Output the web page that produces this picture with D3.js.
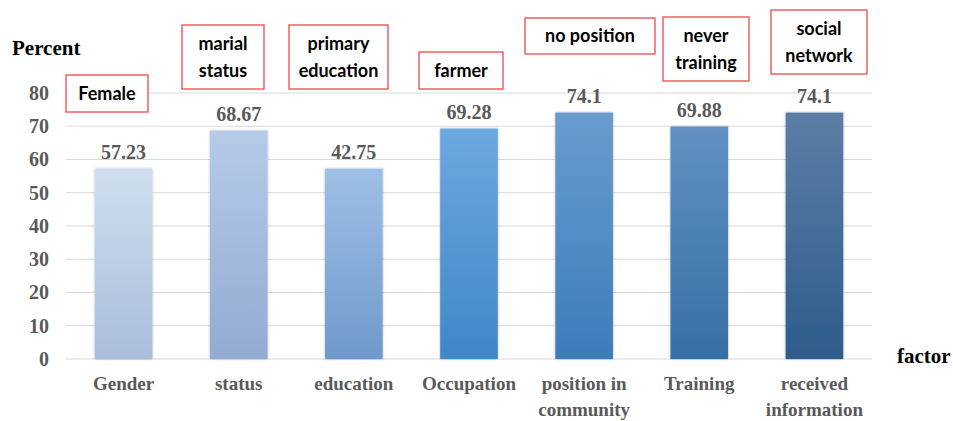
<!DOCTYPE html>
<html>
<head>
<meta charset="utf-8">
<script src="https://cdn.jsdelivr.net/npm/d3@7"></script>
<style>
  body { margin: 0; background: #fff; }
  svg { display: block; }
</style>
</head>
<body>
<svg id="canvas" width="953" height="421"></svg>
<script>
// ---- data ----
let categories = [['Gender'], ['status'], ['education'], ['Occupation'], ['position in', 'community'], ['Training'], ['received', 'information']]
let barValues = [57.23, 68.67, 57.23, 69.28, 74.1, 69.88, 74.1]
let valueLabels = ['57.23', '68.67', '42.75', '69.28', '74.1', '69.88', '74.1']
let yTicks = [0, 10, 20, 30, 40, 50, 60, 70, 80]
let notes = [['Female'], ['marial', 'status'], ['primary', 'education'], ['farmer'], ['no position'], ['never', 'training'], ['social', 'network']]

// gradient stops per bar: top, bottom
let barColors = [
    ['#d0deef', '#a9bedb'],
    ['#b6cbe8', '#93abd3'],
    ['#9fc0e6', '#6e99cb'],
    ['#6ca8e0', '#3f87c8'],
    ['#6a9bcf', '#3b7cbc'],
    ['#6191c2', '#376fa6'],
    ['#5c7ea6', '#2d5c8b']
]

// note boxes [x, y, w, h] - hand placed like in the original slide
let noteBoxes = [
    [66, 75, 82, 37],
    [182, 25, 82, 64],
    [289, 25, 99, 64],
    [419, 52, 84, 37],
    [525, 18, 130, 36],
    [663, 17, 86, 64],
    [771, 10, 96, 64]
]

let canvas = d3.select('#canvas')
let plotLeft = 66, plotRight = 872, plotTop = 93, plotBottom = 359

let x = d3.scaleBand()
    .domain(d3.range(categories.length))
    .range([plotLeft, plotRight])
    .paddingInner(0.5)
    .paddingOuter(0.25)

let y = d3.scaleLinear()
    .domain([0, 80])
    .range([plotBottom, plotTop])

let defs = canvas.append('defs')
barColors.forEach((c, i) => {
    let g = defs.append('linearGradient')
        .attr('id', 'grad' + i)
        .attr('x1', 0).attr('y1', 0).attr('x2', 0).attr('y2', 1)
    g.append('stop').attr('offset', '0%').attr('stop-color', c[0])
    g.append('stop').attr('offset', '100%').attr('stop-color', c[1])
})
let shadow = defs.append('filter').attr('id', 'shadow')
    .attr('x', '-20%').attr('y', '-10%').attr('width', '140%').attr('height', '120%')
shadow.append('feDropShadow')
    .attr('dx', 0).attr('dy', 0).attr('stdDeviation', 1.2)
    .attr('flood-color', '#000').attr('flood-opacity', 0.35)

// gridlines
canvas.append('g')
    .selectAll('line')
    .data(yTicks)
    .enter()
    .append('line')
    .attr('x1', plotLeft).attr('x2', plotRight)
    .attr('y1', d => y(d)).attr('y2', d => y(d))
    .attr('stroke', '#d9d9d9')
    .attr('stroke-width', 1)

// y axis labels
let yAxis = canvas.append('g')
    .attr('transform', 'translate(' + (plotLeft - 17) + ',0)')
    .call(d3.axisLeft(y).tickValues(yTicks).tickSize(0).tickPadding(0))
yAxis.select('.domain').remove()
yAxis.selectAll('text')
    .attr('font-family', '"Liberation Serif", serif')
    .attr('font-weight', 'bold')
    .attr('font-size', 20)
    .attr('fill', '#595959')

// bars
canvas.append('g')
    .selectAll('rect')
    .data(barValues)
    .enter()
    .append('rect')
    .attr('x', (d, i) => x(i))
    .attr('y', d => y(d))
    .attr('width', x.bandwidth())
    .attr('height', d => y(0) - y(d))
    .attr('fill', (d, i) => 'url(#grad' + i + ')')
    .attr('filter', 'url(#shadow)')

// value labels
canvas.append('g')
    .selectAll('text')
    .data(barValues)
    .enter()
    .append('text')
    .text((d, i) => valueLabels[i])
    .attr('x', (d, i) => x(i) + x.bandwidth() / 2)
    .attr('y', d => y(d) - 10)
    .attr('text-anchor', 'middle')
    .attr('font-family', '"Liberation Serif", serif')
    .attr('font-weight', 'bold')
    .attr('font-size', 20)
    .attr('fill', '#595959')

// category labels
let catG = canvas.append('g')
    .selectAll('text')
    .data(categories)
    .enter()
    .append('text')
    .attr('x', (d, i) => x(i) + x.bandwidth() / 2)
    .attr('y', 390)
    .attr('text-anchor', 'middle')
    .attr('font-family', '"Liberation Serif", serif')
    .attr('font-weight', 'bold')
    .attr('font-size', 19)
    .attr('fill', '#595959')
catG.selectAll('tspan')
    .data(d => d)
    .enter()
    .append('tspan')
    .attr('x', function () { return d3.select(this.parentNode).attr('x') })
    .attr('dy', (d, i) => i === 0 ? 0 : 26)
    .text(d => d)

// axis titles
canvas.append('text')
    .text('Percent')
    .attr('x', 12).attr('y', 55)
    .attr('font-family', '"Liberation Serif", serif')
    .attr('font-weight', 'bold')
    .attr('font-size', 21)
    .attr('fill', '#000')
canvas.append('text')
    .text('factor')
    .attr('x', 897).attr('y', 363)
    .attr('font-family', '"Liberation Serif", serif')
    .attr('font-weight', 'bold')
    .attr('font-size', 21)
    .attr('fill', '#000')

// note boxes
let noteG = canvas.append('g')
    .selectAll('g')
    .data(notes)
    .enter()
    .append('g')
    .attr('transform', (d, i) => 'translate(' + noteBoxes[i][0] + ',' + noteBoxes[i][1] + ')')
noteG.append('rect')
    .attr('width', (d, i) => noteBoxes[i][2])
    .attr('height', (d, i) => noteBoxes[i][3])
    .attr('fill', '#fff')
    .attr('stroke', '#f0464b')
    .attr('stroke-width', 1.3)
let noteText = noteG.append('text')
    .attr('text-anchor', 'middle')
    .attr('font-family', 'Lato, sans-serif')
    .attr('font-weight', 'bold')
    .attr('font-size', 18)
    .attr('fill', '#000')
noteText.selectAll('tspan')
    .data((d, i) => d.map(t => ({ t: t, i: i, n: d.length })))
    .enter()
    .append('tspan')
    .attr('x', d => noteBoxes[d.i][2] / 2)
    .attr('y', (d, k) => {
        let h = noteBoxes[d.i][3]
        if (d.n === 1) return h / 2 + 6
        return h / 2 - 7 + k * 27
    })
    .text(d => d.t)
</script>
</body>
</html>
